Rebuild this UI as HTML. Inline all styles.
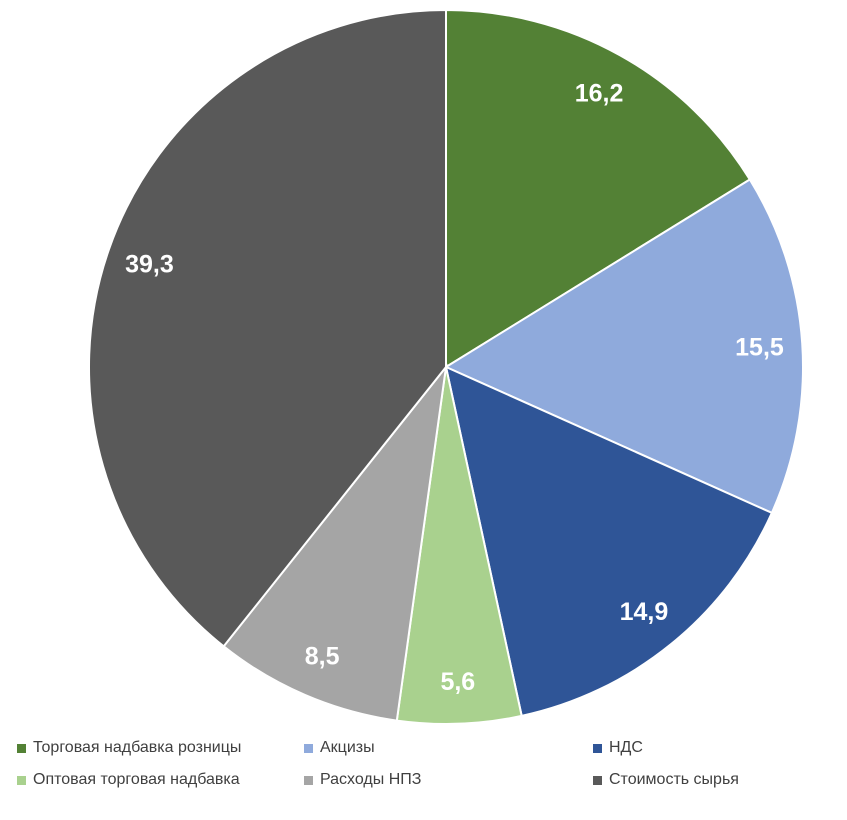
<!DOCTYPE html>
<html><head><meta charset="utf-8"><style>
body{margin:0;background:#fff;width:847px;height:820px;overflow:hidden;font-family:"Liberation Sans",sans-serif}
.leg{position:absolute;font-size:16px;color:#404040;display:flex;align-items:center}
.leg span.m{width:9px;height:9px;display:inline-block;margin-right:7px}
</style></head><body>
<svg id="chart" width="847" height="820" style="position:absolute;left:0;top:0"></svg>
<div class="leg" style="left:17px;top:739px"><span class="m" style="background:#538135"></span>Торговая надбавка розницы</div>
<div class="leg" style="left:304px;top:739px"><span class="m" style="background:#8faadc"></span>Акцизы</div>
<div class="leg" style="left:593px;top:739px"><span class="m" style="background:#2f5597"></span>НДС</div>
<div class="leg" style="left:17px;top:771px"><span class="m" style="background:#a9d18e"></span>Оптовая торговая надбавка</div>
<div class="leg" style="left:304px;top:771px"><span class="m" style="background:#a5a5a5"></span>Расходы НПЗ</div>
<div class="leg" style="left:593px;top:771px"><span class="m" style="background:#595959"></span>Стоимость сырья</div>
<script>
const categories=["Торговая надбавка розницы","Акцизы","НДС","Оптовая торговая надбавка","Расходы НПЗ","Стоимость сырья"];
const values=[16.2,15.5,14.9,5.6,8.5,39.3];
const labels=["16,2","15,5","14,9","5,6","8,5","39,3"];
const colors=["#538135","#8faadc","#2f5597","#a9d18e","#a5a5a5","#595959"];
const svg=document.getElementById('chart');
const NS="http://www.w3.org/2000/svg";
const cx=446,cy=367,R=357;
const total=values.reduce((a,b)=>a+b,0);
function pt(a,r){return [cx+r*Math.sin(a),cy-r*Math.cos(a)];}
let acc=0;
values.forEach((v,i)=>{
  const a0=acc/total*2*Math.PI;acc+=v;const a1=acc/total*2*Math.PI;
  const p0=pt(a0,R),p1=pt(a1,R);
  const path=document.createElementNS(NS,'path');
  path.setAttribute('d',`M${cx},${cy}L${p0[0]},${p0[1]}A${R},${R} 0 ${a1-a0>Math.PI?1:0} 1 ${p1[0]},${p1[1]}Z`);
  path.setAttribute('fill',colors[i]);path.setAttribute('stroke','#fff');path.setAttribute('stroke-width','2');
  
  
  svg.appendChild(path);
});
acc=0;
values.forEach((v,i)=>{
  const am=(acc+v/2)/total*2*Math.PI;acc+=v;
  const p=pt(am,R*0.88);
  const t=document.createElementNS(NS,'text');
  t.setAttribute('x',p[0]);t.setAttribute('y',p[1]+9);
  t.setAttribute('text-anchor','middle');t.setAttribute('fill','#fff');
  t.setAttribute('font-size','25');t.setAttribute('font-weight','bold');
  t.setAttribute('font-family','Liberation Sans, sans-serif');
  t.textContent=labels[i];
  
  
  svg.appendChild(t);
});
</script>
</body></html>
